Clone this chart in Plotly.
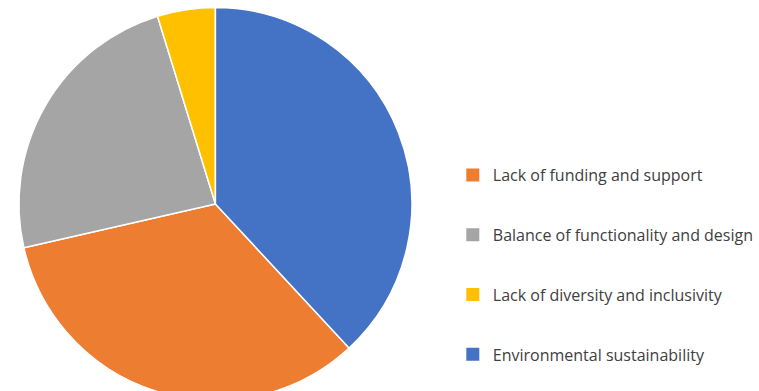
import plotly.graph_objects as go

# Survey responses: main challenges named by participants
categories = [
    "Lack of funding and support",
    "Balance of functionality and design",
    "Lack of diversity and inclusivity",
    "Environmental sustainability",
]
responses = [7, 5, 1, 8]
colors = ["#ED7D31", "#A5A5A5", "#FFC000", "#4472C4"]

W, H = 759, 405
cx, cy, r = 216, 204, 197  # pie centre / radius in pixels

# Start the first slice where the last one ends so the last slice begins at 12 o'clock
rotation = 360 * responses[-1] / sum(responses)

fig = go.Figure()
fig.add_trace(go.Pie(
    labels=categories,
    values=responses,
    sort=False,
    direction="clockwise",
    rotation=rotation,
    marker=dict(colors=colors, line=dict(color="white", width=1.5)),
    textinfo="none",
    hoverinfo="label+value+percent",
    showlegend=False,
    domain=dict(x=[(cx - r) / W, (cx + r) / W],
                y=[(H - cy - r) / H, (H - cy + r) / H]),
))

# Legend entries, one group per category so they can be spaced apart
for name, col in zip(categories, colors):
    fig.add_trace(go.Scatter(
        x=[None], y=[None], mode="markers", name=name, legendgroup=name,
        marker=dict(symbol="square", size=13, color=col),
        hoverinfo="skip",
    ))

fig.update_layout(
    width=W, height=H,
    margin=dict(l=0, r=0, t=0, b=0),
    paper_bgcolor="white", plot_bgcolor="white",
    xaxis=dict(visible=False), yaxis=dict(visible=False),
    font=dict(family="Open Sans, sans-serif", color="#404040"),
    legend=dict(
        x=454 / W, xanchor="left",
        y=1 - 158 / H, yanchor="top",
        font=dict(size=16, color="#404040"),
        tracegroupgap=36,
        bgcolor="rgba(0,0,0,0)",
    ),
)

fig.write_html("out.html")
